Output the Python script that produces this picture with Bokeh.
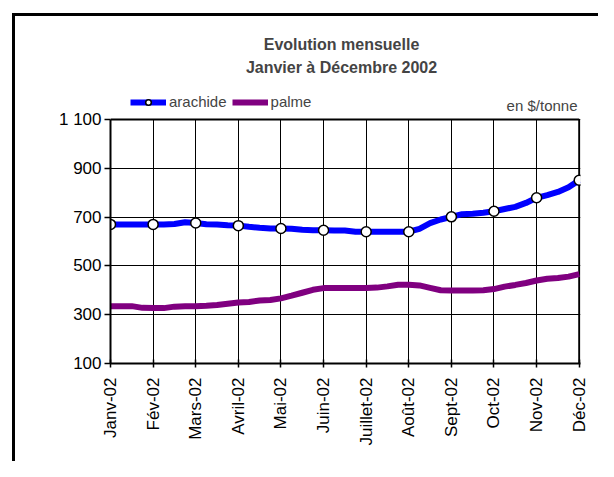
from bokeh.plotting import figure
from bokeh.layouts import row, column
from bokeh.models import Range1d, FixedTicker, Label, Legend, LegendItem, Spacer
from bokeh.embed import file_html
from bokeh.resources import INLINE

months = ["Janv-02", "Fév-02", "Mars-02", "Avril-02", "Mai-02", "Juin-02",
          "Juillet-02", "Août-02", "Sept-02", "Oct-02", "Nov-02", "Déc-02"]
y_ticks = [100, 300, 500, 700, 900, 1100]
y_tick_labels = ["100", "300", "500", "700", "900", "1 100"]

# weekly positions (quarter months), month index 0 = Janv-02
x_weeks = [i / 4 for i in range(45)]
arachide = [670, 670, 670, 670, 670, 670, 672, 679, 676, 671, 670, 667,
            665, 660, 656, 653, 653, 652, 648, 646, 646, 645, 645, 640,
            640, 640, 640, 640, 640, 652, 675, 690, 701, 712, 714, 718,
            724, 733, 742, 758, 779, 790, 803, 822, 851]
palme = [335, 335, 335, 328, 327, 327, 333, 335, 335, 337, 340, 345,
         350, 352, 358, 360, 367, 378, 390, 402, 409, 409, 409, 409,
         409, 411, 416, 423, 423, 420, 410, 400, 399, 399, 399, 400,
         405, 415, 422, 430, 440, 447, 450, 456, 466]
x_months = list(range(12))
arachide_monthly = [arachide[4 * i] for i in range(12)]

FONT = "Liberation Sans"
Y_TOP = 1481  # headroom above the 1 100 gridline for title/legend

p = figure(width=586, height=448, output_backend="svg", toolbar_location=None,
           x_range=Range1d(0, 11.03), y_range=Range1d(100, Y_TOP),
           min_border_left=95, min_border_right=21, min_border_top=10,
           min_border_bottom=101,
           styles={"border-left": "3px solid black", "border-top": "3px solid black"})
p.background_fill_color = "white"
p.border_fill_color = "white"
p.outline_line_color = None

p.xaxis.ticker = FixedTicker(ticks=x_months)
p.xaxis.major_label_overrides = {i: m for i, m in enumerate(months)}
p.xaxis.major_label_orientation = 1.5707963
p.yaxis.ticker = FixedTicker(ticks=y_ticks)
p.yaxis.major_label_overrides = {t: l for t, l in zip(y_ticks, y_tick_labels)}
p.yaxis.bounds = (y_ticks[0], y_ticks[-1])
for ax in (p.xaxis, p.yaxis):
    ax.axis_line_color = "black"
    ax.axis_line_width = 2
    ax.major_tick_line_color = "black"
    ax.major_tick_line_width = 1.5
    ax.minor_tick_line_color = None
    ax.major_label_text_font = FONT
    ax.major_label_text_color = "black"
p.xaxis.major_tick_in = 4
p.xaxis.major_tick_out = 4
p.yaxis.major_tick_in = 0
p.yaxis.major_tick_out = 6
p.xaxis.major_label_text_font_size = "17px"
p.yaxis.major_label_text_font_size = "17px"
p.xaxis.major_label_standoff = 10
p.yaxis.major_label_standoff = 3

p.grid.grid_line_color = "black"
p.grid.grid_line_width = 1
p.xgrid.ticker = FixedTicker(ticks=x_months)
p.ygrid.ticker = FixedTicker(ticks=y_ticks)
p.xgrid.cross_bounds = (y_ticks[0], y_ticks[-1])

# plot-area border (top and right), from the axes' extents
p.segment(x0=[x_months[0], x_months[-1]], y0=[y_ticks[-1], y_ticks[0]],
          x1=[x_months[-1], x_months[-1]], y1=[y_ticks[-1], y_ticks[-1]],
          line_color="black", line_width=2)

r_pal = p.line(x_weeks, palme, line_color="#800080", line_width=6)
r_ara = p.line(x_weeks, arachide, line_color="#0000FF", line_width=6)
r_mk = p.scatter(x_months, arachide_monthly, marker="circle", size=10,
                 fill_color="white", line_color="black", line_width=1.5)

legend = Legend(items=[LegendItem(label="arachide", renderers=[r_ara, r_mk]),
                       LegendItem(label="palme", renderers=[r_pal])],
                orientation="horizontal", location=(20, 253),
                background_fill_alpha=0, border_line_alpha=0,
                padding=0, margin=0, spacing=5, label_standoff=3,
                glyph_width=36, glyph_height=14, label_height=16,
                label_text_font=FONT, label_text_font_size="15px")
p.add_layout(legend, "center")

p.add_layout(Label(x=231, y=319, x_units="screen", y_units="screen",
                   text="Evolution mensuelle", text_align="center",
                   text_baseline="middle", text_font=FONT, text_font_size="16px",
                   text_font_style="bold"))
p.add_layout(Label(x=231, y=296, x_units="screen", y_units="screen",
                   text="Janvier à Décembre 2002", text_align="center",
                   text_baseline="middle", text_font=FONT, text_font_size="16px",
                   text_font_style="bold"))
p.add_layout(Label(x=467, y=258, x_units="screen", y_units="screen",
                   text="en $/tonne", text_align="right",
                   text_baseline="middle", text_font=FONT, text_font_size="15px"))

layout = row(Spacer(width=12), column(Spacer(height=13), p))
open("out.html", "w").write(file_html(layout, INLINE))
